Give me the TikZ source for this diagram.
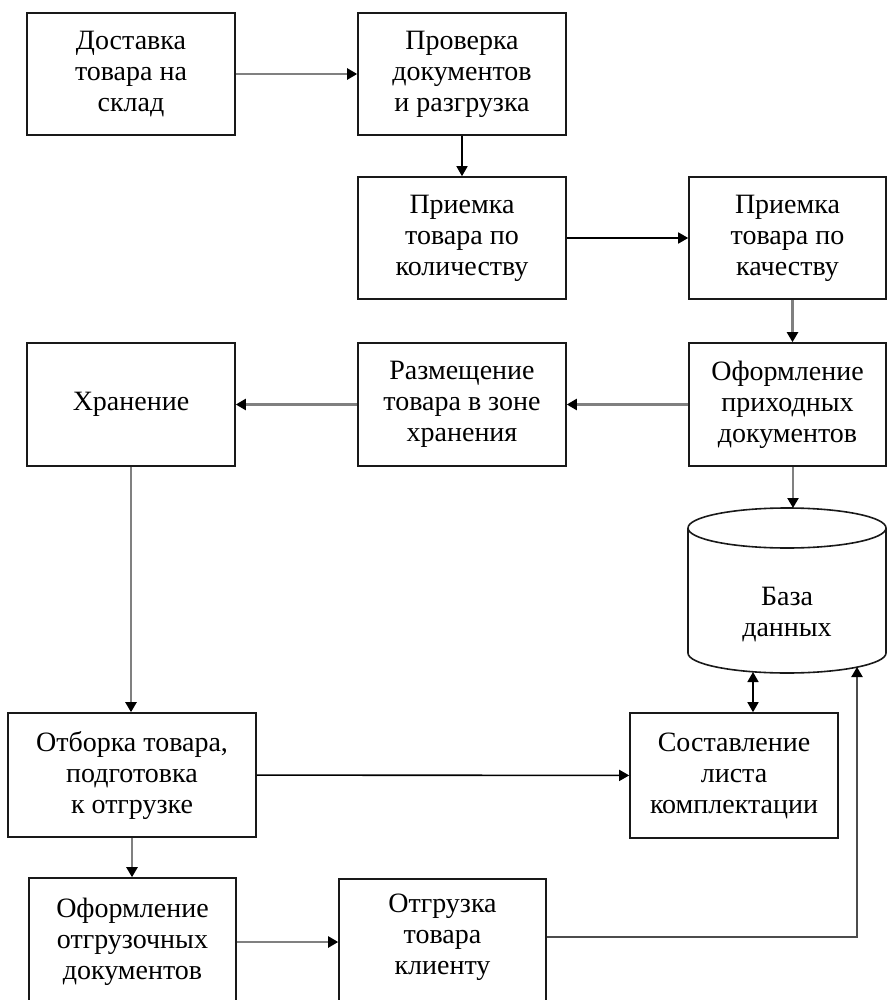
\documentclass[tikz,border=0pt]{standalone}
\usepackage{fontspec}
\setmainfont{Liberation Serif}
\usetikzlibrary{arrows.meta,calc}
\begin{document}
\begin{tikzpicture}[x=1pt,y=-1pt,
  box/.style={draw=black!90, line width=1.6pt, align=center, inner sep=0pt, font=\fontsize{28}{31}\selectfont},
  txt/.style={align=center, inner sep=0pt, font=\fontsize{28}{31}\selectfont},
  gl/.style={draw=black!50, line width=2.2pt, -{Triangle[length=10pt,width=11pt,color=black]}},
  bl/.style={draw=black, line width=1.6pt, -{Triangle[length=10pt,width=11pt,color=black]}},
  cyl/.style={draw=black!90, line width=1.6pt},
]
\useasboundingbox (0,0) rectangle (887,1000);
\fill[white] (0,0) rectangle (887,1000);

\node[box, minimum width=208pt, minimum height=122pt] (b1) at (131,74) {Доставка\\товара на\\склад};
\node[box, minimum width=208pt, minimum height=122pt] (b2) at (462,74) {Проверка\\документов\\и разгрузка};
\node[box, minimum width=208pt, minimum height=122pt] (b3) at (462,238) {Приемка\\товара по\\количеству};
\node[box, minimum width=197pt, minimum height=122pt] (b4) at (787.5,238) {Приемка\\товара по\\качеству};
\node[box, minimum width=197pt, minimum height=123pt] (b5) at (787.5,404.5) {Оформление\\приходных\\документов};
\node[box, minimum width=208pt, minimum height=123pt] (b6) at (462,404.5) {Размещение\\товара в зоне\\хранения};
\node[box, minimum width=208pt, minimum height=123pt] (b7) at (131,404.5) {Хранение};
\node[box, minimum width=248pt, minimum height=124pt] (b8) at (132,775) {Отборка товара,\\подготовка\\к отгрузке};
\node[box, minimum width=208pt, minimum height=125pt] (b9) at (734,775.5) {Составление\\листа\\комплектации};
\node[box, minimum width=207pt, minimum height=128pt] (b10) at (132.5,942) {Оформление\\отгрузочных\\документов};
\node[box, minimum width=207pt, minimum height=150pt, anchor=north] (b11) at (442.5,878) {};
\node[txt] (b11t) at (442.5,937) {Отгрузка\\товара\\клиенту};

% database cylinder
\draw[cyl] (787,528) ellipse [x radius=99pt, y radius=20pt];
\draw[cyl] (688,528) -- (688,653) arc[start angle=180, end angle=360, x radius=99pt, y radius=20pt] -- (886,528);
\node[txt] (db) at (787,615) {База\\данных};
\coordinate (dbt) at (793,508);
\coordinate (dbl) at (753,672);
\coordinate (dbr) at (857,667);

% connectors
\draw[gl] (b1) -- (b2);
\draw[bl] (b2) -- (b3);
\draw[bl] (b3) -- (b4);
\draw[gl] ([xshift=5pt]b4.south) -- ([xshift=5pt]b5.north);
\draw[gl] (b5) -- (b6);
\draw[gl] (b6) -- (b7);
\draw[gl] (b7.south) -- (b7.south |- b8.north);
\draw[gl] (dbt |- b5.south) -- (dbt);
\draw[bl, {Triangle[length=10pt,width=11pt]}-{Triangle[length=10pt,width=11pt]}] (dbl) -- (dbl |- b9.north);
\draw[bl] (b8) -- (b9);
\draw[gl] (b8.south) -- (b8.south |- b10.north);
\draw[gl] (b10.east) -- (b10.east -| b11.west);
\draw[gl, draw=black!70] (b11t -| b11.east) -| (dbr);
\end{tikzpicture}
\end{document}
